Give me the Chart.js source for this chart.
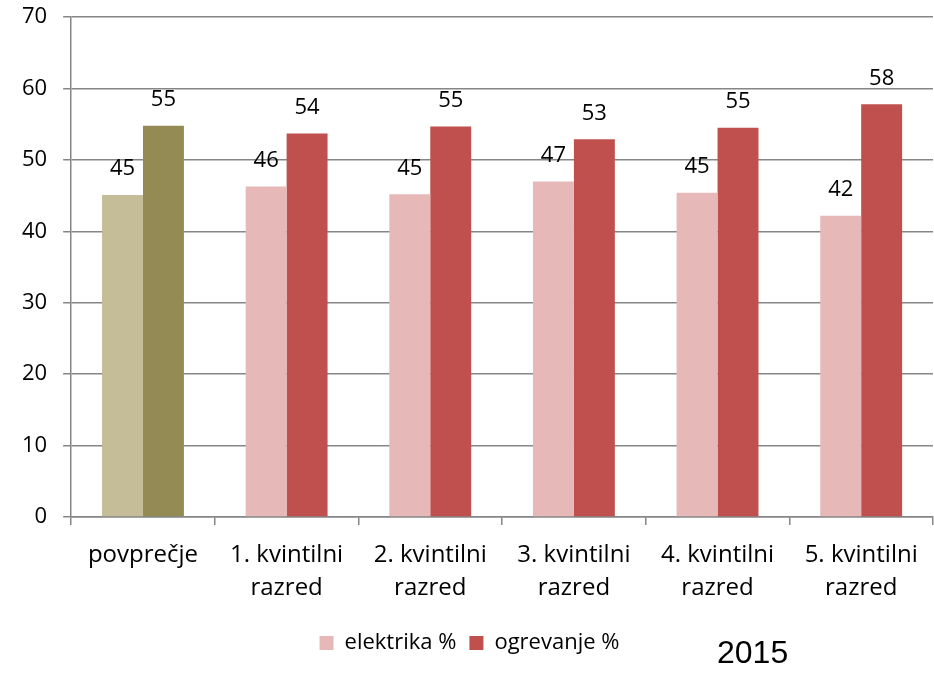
<!DOCTYPE html>
<html>
<head>
<meta charset="utf-8">
<script src="https://cdn.jsdelivr.net/npm/chart.js@4/dist/chart.umd.min.js"></script>
<style>
  html, body { margin: 0; padding: 0; background: #fff; overflow: hidden; }
  #wrap { position: relative; width: 934px; height: 675px; overflow: hidden; }
  #grafikon { position: absolute; left: 0; top: -12px; }
  #leto { position: absolute; left: 717px; top: 634px; font: 32px "Liberation Sans", Arial, sans-serif; color: #000; }
</style>
</head>
<body>
<div id="wrap">
  <canvas id="grafikon" width="934" height="687"></canvas>
  <div id="leto">2015</div>
</div>
<script>
// Podatki
const razredi = [
  'povprečje',
  ['1. kvintilni', 'razred'],
  ['2. kvintilni', 'razred'],
  ['3. kvintilni', 'razred'],
  ['4. kvintilni', 'razred'],
  ['5. kvintilni', 'razred']
];
const elektrika = [45.1, 46.3, 45.2, 47.0, 45.4, 42.2];
const ogrevanje = [54.8, 53.7, 54.7, 52.9, 54.5, 57.8];
const yTicks = [0, 10, 20, 30, 40, 50, 60, 70];

// Barve
const barvaElektrika = '#E6B9B8';
const barvaOgrevanje = '#C0504D';
const barvaPovpE = '#C4BD97';
const barvaPovpO = '#948A54';

const pisava = '"Open Sans", "Noto Sans", sans-serif';

// Vrednosti nad stolpci
const oznakePlugin = {
  id: 'oznake',
  afterDatasetsDraw(chart) {
    const ctx = chart.ctx;
    ctx.save();
    ctx.font = '22px ' + pisava;
    ctx.fillStyle = '#000';
    ctx.textAlign = 'center';
    ctx.textBaseline = 'middle';
    chart.data.datasets.forEach((ds, i) => {
      const meta = chart.getDatasetMeta(i);
      meta.data.forEach((bar, j) => {
        ctx.fillText(Math.round(ds.data[j]), bar.x, bar.y - 26);
      });
    });
    ctx.restore();
  }
};

new Chart(document.getElementById('grafikon'), {
  type: 'bar',
  data: {
    labels: razredi,
    datasets: [{
      label: 'elektrika %',
      data: elektrika,
      backgroundColor: elektrika.map((v, i) => i === 0 ? barvaPovpE : barvaElektrika),
      barPercentage: 1,
      categoryPercentage: 0.57
    }, {
      label: 'ogrevanje %',
      data: ogrevanje,
      backgroundColor: ogrevanje.map((v, i) => i === 0 ? barvaPovpO : barvaOgrevanje),
      barPercentage: 1,
      categoryPercentage: 0.57
    }]
  },
  options: {
    responsive: false,
    animation: false,
    layout: { padding: { top: 2, right: 1, left: 6, bottom: 11 } },
    scales: {
      x: {
        grid: {
          display: true,
          drawOnChartArea: false,
          offset: true,
          color: '#868686',
          lineWidth: 1.5,
          tickLength: 8
        },
        border: { color: '#868686', width: 1.5 },
        ticks: {
          color: '#000',
          font: { family: pisava, size: 24, lineHeight: 1.375 },
          padding: 14,
          maxRotation: 0,
          autoSkip: false
        }
      },
      y: {
        min: 0,
        max: 70,
        afterBuildTicks: axis => { axis.ticks = yTicks.map(v => ({ value: v })); },
        grid: { color: '#868686', lineWidth: 1.5, tickLength: 8 },
        border: { color: '#868686', width: 1.5 },
        ticks: {
          color: '#000',
          font: { family: pisava, size: 22 },
          padding: 16
        }
      }
    },
    plugins: {
      legend: {
        position: 'bottom',
        labels: {
          color: '#000',
          font: { family: pisava, size: 22 },
          boxWidth: 14,
          boxHeight: 14,
          padding: 13,
          generateLabels: () => [
            { text: 'elektrika %', fillStyle: barvaElektrika, strokeStyle: barvaElektrika, lineWidth: 0, datasetIndex: 0 },
            { text: 'ogrevanje %', fillStyle: barvaOgrevanje, strokeStyle: barvaOgrevanje, lineWidth: 0, datasetIndex: 1 }
          ]
        }
      },
      tooltip: { enabled: false }
    }
  },
  plugins: [oznakePlugin]
});
</script>
</body>
</html>
